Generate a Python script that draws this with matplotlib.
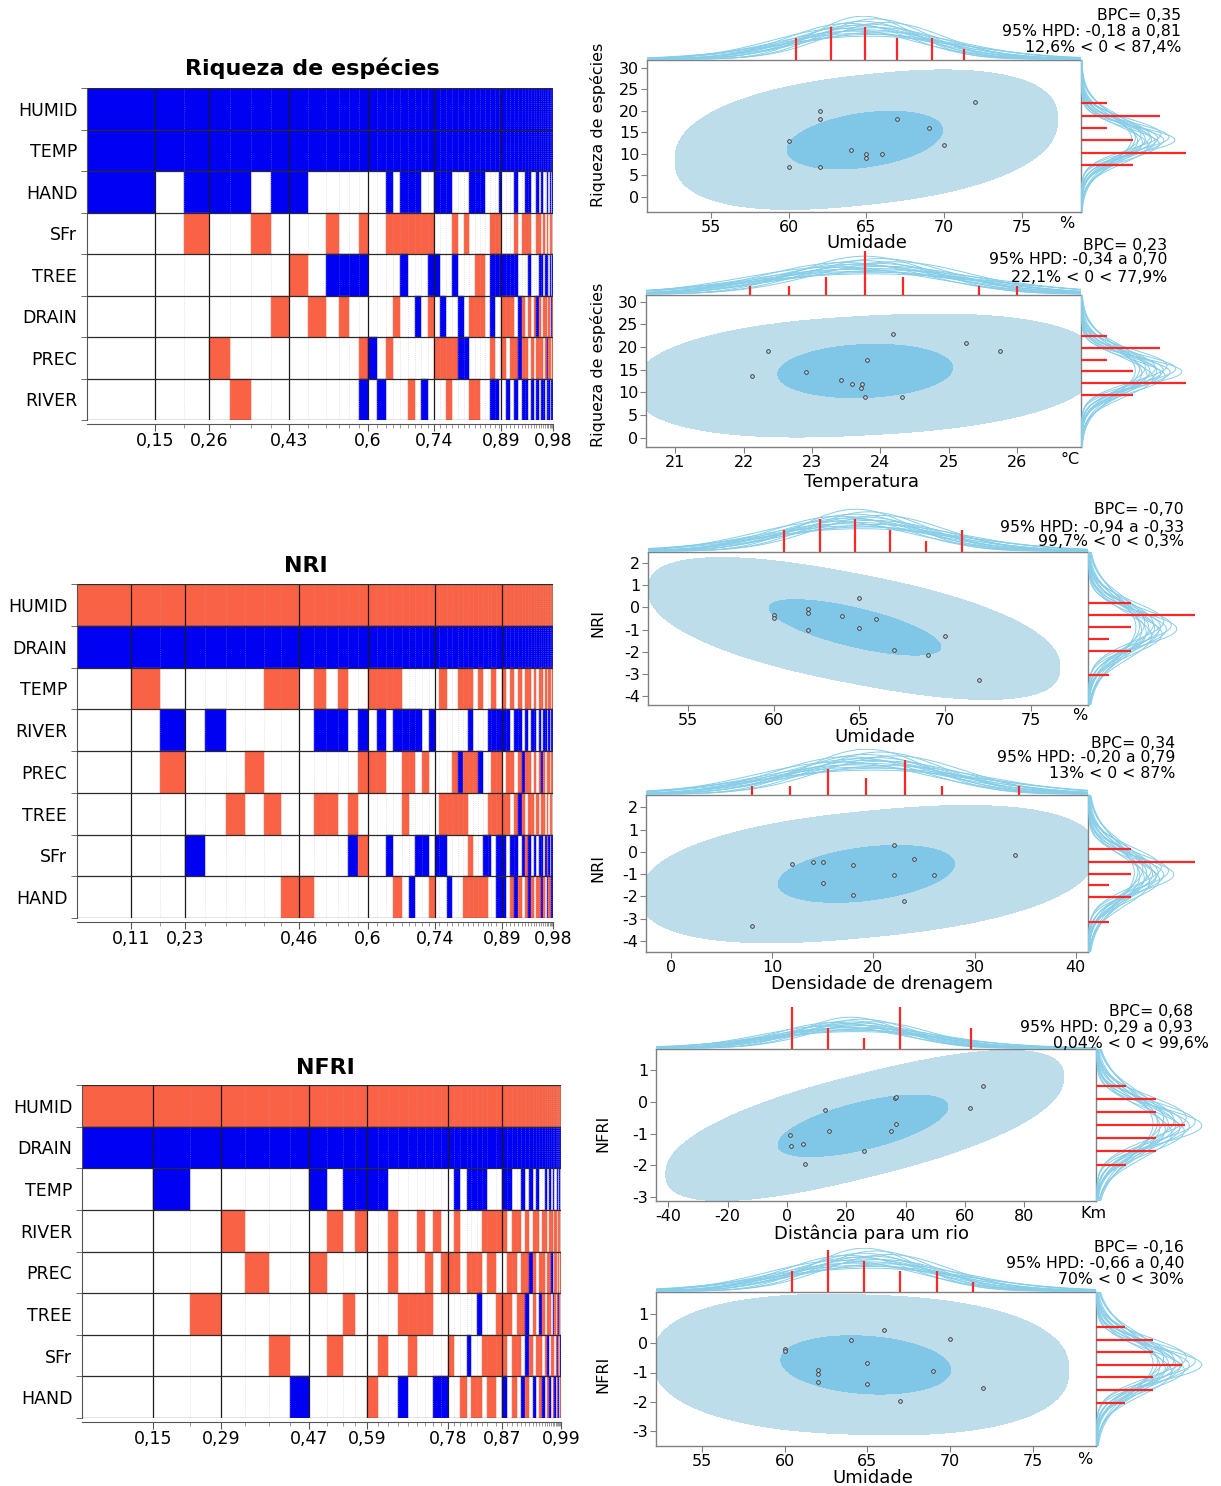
import numpy as np
import matplotlib
matplotlib.use("Agg")
import matplotlib.pyplot as plt

plt.rcParams['font.family'] = ['DejaVu Sans']

# ------------------------------------------------------------------ DATA
# BMA image plots: posterior model probabilities and coefficient signs
# '+' positive (blue), '-' negative (red), '.' not in model
rich_vars = ["HUMID", "TEMP", "HAND", "SFr", "TREE", "DRAIN", "PREC", "RIVER"]
rich_probs = [0.144, 0.060, 0.052, 0.045, 0.044, 0.042, 0.038, 0.040, 0.037, 0.027,
              0.022, 0.021, 0.019, 0.019, 0.018, 0.015, 0.016, 0.016, 0.014, 0.014,
              0.014, 0.012, 0.013, 0.012, 0.013, 0.014, 0.011, 0.012, 0.012, 0.011,
              0.010, 0.011, 0.010, 0.008, 0.005,
              0.0095, 0.009, 0.0085, 0.008, 0.0075, 0.007, 0.0065, 0.006, 0.0058, 0.0055,
              0.005, 0.0047, 0.0044, 0.004, 0.0037, 0.0034, 0.003, 0.0027, 0.0024, 0.0021]
rich_signs = {
    "HUMID": "+++++ +++++ +++++ +++++ +++++ +++++ +++++ | +++++ +++++ +++++ +++++",
    "TEMP":  "+++++ +++++ +++++ +++++ +++++ +++++ +++++ | +++++ +++++ +++++ +++++",
    "HAND":  "+.+++ .++.. ..... +.+++ ..+++ ...++ +...+ | ...+. .++.. +.+.. +.+.+",
    "SFr":   "..-.. -...- ..-.. ----- --... -.-.. ..--- | ...-. ---.. --.-. -.--.",
    "TREE":  "..... ..-.+ +++.. ..+.. .++.. +...- -.+++ | ++++. ..+.. .++.+ +.+.+",
    "DRAIN": "..... .-.-. -.... .-..+ .-.+. .+.-- -.+.. | ---.+ -.-.- +-.-- .-.+-",
    "PREC":  "...-. ..... ..-+. -.... ..--- -++.. ..-.. | -.--+ --.-. ---.- +--.-",
    "RIVER": "....- ..... ..+.+ ...-. +...- ...-- ..++. | .+.+. ++.+. +.++. ++.++",
}
rich_tick_after = [1, 3, 7, 13, 22, 35, 55]
rich_tick_labels = ["0,15", "0,26", "0,43", "0,6", "0,74", "0,89", "0,98"]

nri_vars = ["HUMID", "DRAIN", "TEMP", "RIVER", "PREC", "TREE", "SFr", "HAND"]
nri_probs = [0.112, 0.059, 0.051, 0.042, 0.042, 0.040, 0.038, 0.036, 0.037, 0.030,
             0.026, 0.024, 0.021, 0.021, 0.020, 0.018, 0.018, 0.016, 0.017, 0.015,
             0.013, 0.015, 0.013, 0.012, 0.010, 0.015, 0.011, 0.012, 0.011, 0.010,
             0.010, 0.011, 0.009, 0.010, 0.008, 0.009, 0.012,
             0.0092, 0.0088, 0.0083, 0.0078, 0.0073, 0.0068, 0.0063, 0.0058, 0.0056, 0.0053,
             0.0049, 0.0046, 0.0043, 0.0039, 0.0036, 0.0033, 0.0029, 0.0026, 0.0023, 0.0020]
nri_signs = {
    "HUMID": "----- ----- ----- ----- ----- ----- ----- -- | ----- ----- ----- -----",
    "DRAIN": "+++++ +++++ +++++ +++++ +++++ +++++ +++++ ++ | +++++ +++++ +++++ +++++",
    "TEMP":  ".-... ..--. -.-.. ----. ..... -..-- -.-.. -. | -.-.- .--.- .--.- .--.-",
    "RIVER": "..+.+ ..... +++.+ .+.++ ++.+. ..... +...+ ++ | ++.++ .+.++ .+.++ .+.++",
    "PREC":  "..-.. .-... ....- --..- -.-.. ..-+- --+.. -- | .--.- +--.- .-+-. --.--",
    "TREE":  "..... -.-.. --.-. ....- ..... ----- ....- -- | --.-+ -.--. -.--. -.--.",
    "SFr":   "...+. ..... ...+- ..+.. .++.+ +.... -..++ .+ | +.++. +-+.+ .++.+ -+.++",
    "HAND":  "..... ...-- ..... ...-. +..-. .+..- ----. .+ | +.-+- .-+-. --+-. +--++",
}
nri_tick_after = [1, 3, 9, 15, 24, 37, 57]
nri_tick_labels = ["0,11", "0,23", "0,46", "0,6", "0,74", "0,89", "0,98"]

nfri_vars = ["HUMID", "DRAIN", "TEMP", "RIVER", "PREC", "TREE", "SFr", "HAND"]
nfri_probs = [0.147, 0.076, 0.064, 0.050, 0.050, 0.043, 0.039, 0.037, 0.034, 0.024,
              0.025, 0.023, 0.021, 0.021, 0.020, 0.018, 0.017, 0.017, 0.016, 0.015,
              0.012, 0.013, 0.013, 0.010, 0.012, 0.009, 0.012, 0.017, 0.013,
              0.011, 0.010, 0.0095, 0.009, 0.0085, 0.008, 0.0075, 0.007, 0.0065, 0.006,
              0.0055, 0.005, 0.0045, 0.004, 0.0035, 0.003, 0.003, 0.0025, 0.0025, 0.002,
              0.002, 0.0015]
nfri_signs = {
    "HUMID": "----- ----- ----- ----- ----- ---- | ----- ----- ----- ----- --",
    "DRAIN": "+++++ +++++ +++++ +++++ +++++ ++++ | +++++ +++++ +++++ +++++ ++",
    "TEMP":  ".+... ..+.+ +++.. ..... .+.++ ++.. | ++..+ .+.+. .+.+. +..+. +.",
    "RIVER": "...-. ...-. -..-. .-.-. .-... .--- | -.--. -.--. --.-- .--.- -.",
    "PREC":  "....- ..-.. ...-. ..-.- --.-- -.-. | .--.- -+-.- -.--+ .--.- .-",
    "TREE":  "..-.. ....- ....- ---.. ..... +..- | --.-- +.-.+ -.--. +-.-+ -.",
    "SFr":   "..... -..-. ..-.. -.... -..+. .--- | -.--. +-.-- .-+.- -.-+- .+",
    "HAND":  "..... .+... .-..+ ...++ ..-.- -.-. | +.-.+ -.+.- +.-+. -+.-+ .-",
}
nfri_tick_after = [1, 3, 7, 11, 20, 29, 51]
nfri_tick_labels = ["0,15", "0,29", "0,47", "0,59", "0,78", "0,87", "0,99"]

# Scatter panels: observed points, fitted density regions (cx, cy, half-x, half-y, rho),
# histogram spikes of x and y, marginal curve centres/spreads, statistics
p1_x = [60, 60, 62, 62, 62, 64, 65, 65, 66, 67, 69, 70, 72]
p1_y = [13, 7, 20, 18, 7, 11, 10, 9, 10, 18, 16, 12, 22]
p1_outer = (65.0, 13.3, 12.3, 15.8, 0.30)
p1_inner = (64.9, 13.2, 5.0, 6.7, 0.34)
p1_xh = ([60.5, 62.7, 64.9, 67.0, 69.2, 71.3], [2, 3, 3, 2, 2, 1])
p1_yh = ([7.5, 10.3, 13.2, 16.0, 18.8, 21.7], [2, 4, 2, 1, 3, 1])
p1_curves = ((64.9, 4.3), (13.3, 4.0))
p1_stats = ["BPC= 0,35", "95% HPD: -0,18 a 0,81", "12,6% < 0 < 87,4%"]

p2_x = [22.12, 22.35, 22.91, 23.43, 23.58, 23.73, 23.72, 23.81, 23.78, 24.18, 24.32, 25.26, 25.76]
p2_y = [13.6, 19.1, 14.55, 12.7, 11.8, 11.8, 10.9, 17.2, 9.0, 22.8, 9.0, 20.9, 19.1]
p2_outer = (23.8, 13.7, 3.4, 13.4, 0.20)
p2_inner = (23.78, 14.7, 1.28, 5.9, 0.12)
p2_xh = ([22.1, 22.66, 23.21, 23.77, 24.33, 25.44, 26.0], [1, 1, 2, 5, 2, 1, 1])
p2_yh = ([9.4, 12.0, 14.6, 17.2, 19.8, 22.5], [2, 4, 2, 1, 3, 1])
p2_curves = ((23.8, 1.3), (14.6, 4.0))
p2_stats = ["BPC= 0,23", "95% HPD: -0,34 a 0,70", "22,1% < 0 < 77,9%"]

p3_x = [60, 60, 62, 62, 62, 64, 65, 65, 66, 67, 69, 70, 72]
p3_y = [-0.36, -0.48, -0.06, -0.24, -1.0, -0.37, 0.44, -0.94, -0.52, -1.93, -2.15, -1.31, -3.28]
p3_outer = (64.7, -0.95, 12.0, 3.05, -0.58)
p3_inner = (64.76, -0.9, 5.0, 1.25, -0.70)
p3_xh = ([60.6, 62.7, 64.75, 66.8, 68.9, 71.0], [2, 3, 3, 2, 1, 2])
p3_yh = ([0.19, -0.355, -0.895, -1.435, -1.975, -3.055], [2, 5, 2, 1, 2, 1])
p3_curves = ((64.9, 4.3), (-0.95, 1.0))
p3_stats = ["BPC= -0,70", "95% HPD: -0,94 a -0,33", "99,7% < 0 < 0,3%"]

p4_x = [7.97, 11.98, 14.0, 15.0, 15.0, 18.0, 18.0, 22.0, 22.0, 23.0, 24.0, 26.0, 34.0]
p4_y = [-3.31, -0.565, -0.46, -0.46, -1.39, -0.595, -1.96, 0.32, -1.03, -2.2, -0.31, -1.06, -0.16]
p4_outer = (19.5, -1.0, 22.5, 3.0, 0.33)
p4_inner = (19.3, -0.99, 8.7, 1.28, 0.35)
p4_xh = ([7.97, 11.78, 15.55, 19.3, 23.1, 26.8, 34.4], [1, 1, 3, 2, 4, 1, 1])
p4_yh = ([0.11, -0.445, -0.985, -1.51, -2.05, -3.13], [2, 5, 2, 1, 2, 1])
p4_curves = ((19.5, 8.0), (-1.0, 1.0))
p4_stats = ["BPC= 0,34", "95% HPD: -0,20 a 0,79", "13% < 0 < 87%"]

p5_x = [1.1, 1.5, 5.5, 6.2, 12.7, 14.3, 25.9, 34.9, 36.3, 36.9, 36.9, 61.6, 66.2]
p5_y = [-1.05, -1.39, -1.32, -1.96, -0.25, -0.92, -1.53, -0.91, 0.12, 0.17, -0.68, -0.19, 0.49]
p5_outer = (26.2, -0.74, 67.0, 2.25, 0.68)
p5_inner = (25.6, -0.75, 28.6, 0.97, 0.62)
p5_xh = ([1.8, 13.9, 25.9, 38.1, 62.1], [4, 2, 1, 4, 2])
p5_yh = ([0.51, 0.095, -0.31, -0.73, -1.14, -1.56, -1.98], [1, 2, 2, 3, 2, 2, 1])
p5_curves = ((22.0, 22.0), (-0.73, 0.75))
p5_stats = ["BPC= 0,68", "95% HPD: 0,29 a 0,93", "0,04% < 0 < 99,6%"]

p6_x = [60, 60, 62, 62, 62, 64, 65, 65, 66, 67, 69, 70, 72]
p6_y = [-0.19, -0.27, -0.91, -1.06, -1.33, 0.12, -0.68, -1.40, 0.47, -1.98, -0.94, 0.16, -1.54]
p6_outer = (64.6, -0.73, 12.6, 2.4, -0.08)
p6_inner = (64.9, -0.74, 5.14, 1.0, -0.17)
p6_xh = ([60.45, 62.6, 64.8, 66.98, 69.2, 71.4], [2, 4, 3, 2, 2, 1])
p6_yh = ([0.55, 0.12, -0.31, -0.74, -1.17, -1.60, -2.03], [1, 2, 2, 3, 2, 2, 1])
p6_curves = ((64.9, 4.3), (-0.72, 0.75))
p6_stats = ["BPC= -0,16", "95% HPD: -0,66 a 0,40", "70% < 0 < 30%"]

# posterior draws of the marginal curves: shift (in sd) and spread factor
curve_shift = [-0.35, -0.25, -0.18, -0.12, -0.08, -0.04, 0.0, 0.03, 0.07, 0.11,
               0.15, 0.20, 0.26, 0.32, -0.02, 0.05]
curve_scale = [1.05, 0.90, 1.15, 0.95, 1.25, 0.85, 1.00, 1.10, 0.92, 1.30,
               0.80, 1.02, 1.18, 0.88, 0.75, 1.40]

# ------------------------------------------------------------------ STYLE / LAYOUT
FW, FH = 1221, 1486
BLUE, RED = "#0000f2", "#fa6245"
OUTER, INNER, CURVE, SPIKE, SPINE = "#bcdde9", "#80c6e7", "#86cde8", "#ff2626", "#808080"
SHAPE_OUTER, SHAPE_INNER = 2.35, 2.0   # superellipse exponents of the density regions

fig = plt.figure(figsize=(FW / 100, FH / 100), dpi=100)


def box(x0, y0, x1, y1):
    return [x0 / FW, 1 - y1 / FH, (x1 - x0) / FW, (y1 - y0) / FH]


def ftext(x, y, s, **kw):
    fig.text(x / FW, 1 - y / FH, s, **kw)


def clean(s):
    return s.replace(" ", "").replace("|", "")


def image_plot(rect, title, title_xy, variables, probs, signs, tick_after, tick_labels):
    ax = fig.add_axes(box(*rect))
    probs = np.asarray(probs, dtype=float)
    ends = np.cumsum(probs)
    starts = ends - probs
    total = ends[-1]
    nv = len(variables)
    for i, v in enumerate(variables):
        s = clean(signs[v])
        assert len(s) == len(probs), (v, len(s), len(probs))
        idx = [j for j, c in enumerate(s) if c != '.']
        cols = [BLUE if s[j] == '+' else RED for j in idx]
        ax.barh(np.full(len(idx), nv - i - 0.5), probs[idx], left=starts[idx], height=1.0,
                color=cols, edgecolor=cols, linewidth=0.3, zorder=2)
    ax.vlines(ends[:-1], 0, nv, colors="#b0b0b0", linestyles=(0, (1, 1.5)), lw=0.6,
              alpha=0.45, zorder=3)
    tpos = ends[np.array(tick_after) - 1]
    ax.vlines(tpos, 0, nv, colors="#1a1a1a", lw=0.9, zorder=4)
    ax.hlines(np.arange(nv + 1), 0, total, colors="#2a2a2a", lw=0.9, zorder=4)
    ax.set_xlim(0, total)
    ax.set_ylim(0, nv)
    for sp in ("top", "right"):
        ax.spines[sp].set_visible(False)
    ax.spines["bottom"].set_position(("outward", 3))
    ax.spines["bottom"].set_color("#555555")
    ax.spines["left"].set_color("#555555")
    ax.set_xticks(tpos)
    ax.set_xticklabels(tick_labels, fontsize=12.5)
    ax.set_xticks(ends, minor=True)
    ax.set_yticks(nv - np.arange(nv) - 0.5)
    ax.set_yticklabels(variables, fontsize=12.5)
    ax.set_yticks(np.arange(nv + 1), minor=True)
    ax.tick_params(axis="x", which="major", length=5, color="#555555", pad=1)
    ax.tick_params(axis="x", which="minor", length=3, color="#888888", width=0.6)
    ax.tick_params(axis="y", which="major", length=0, pad=7)
    ax.tick_params(axis="y", which="minor", length=4, color="#555555")
    ftext(title_xy[0], title_xy[1], title, ha="center", va="center",
          fontsize=16, fontweight="bold")


def field(X, Y, p, expo):
    cx, cy, hx, hy, rho = p
    u = (X - cx) / hx
    v = (Y - cy) / hy
    b = (v - rho * u) / np.sqrt(1 - rho * rho)
    return np.abs(u) ** expo + np.abs(b) ** expo


def scatter_panel(rect, top_h, right_w, xlim, ylim, xticks, yticks, xs, ys, outer, inner,
                  xh, yh, top_ppc, right_ppc, curves, top_peak, right_peak,
                  stats, stats_x, stats_y, xlabel, xlabel_xy, ylabel, ylabel_xy,
                  unit=None, unit_xy=None):
    x0, y0, x1, y1 = rect
    ax = fig.add_axes(box(x0, y0, x1, y1))
    axt = fig.add_axes(box(x0, y0 - top_h, x1, y0))
    axr = fig.add_axes(box(x1, y0, x1 + right_w, y1))
    gx = np.linspace(xlim[0], xlim[1], 500)
    gy = np.linspace(ylim[0], ylim[1], 500)
    X, Y = np.meshgrid(gx, gy)
    ax.contourf(X, Y, field(X, Y, outer, SHAPE_OUTER), levels=[-0.5, 1.0],
                colors=[OUTER], zorder=1)
    ax.contourf(X, Y, field(X, Y, inner, SHAPE_INNER), levels=[-0.5, 1.0],
                colors=[INNER], zorder=2)
    ax.scatter(xs, ys, s=7, facecolor="#b8cfd8", edgecolor="#333333", linewidth=0.6, zorder=5)
    ax.set_xlim(xlim)
    ax.set_ylim(ylim)
    ax.set_xticks(xticks)
    ax.set_yticks(yticks)
    ax.set_xticklabels([str(t) for t in xticks], fontsize=11.5)
    ax.set_yticklabels([str(t) for t in yticks], fontsize=11.5)
    ax.tick_params(length=4, color=SPINE, pad=1.5)
    for sp in ax.spines.values():
        sp.set_color(SPINE)
        sp.set_linewidth(1.0)

    (mx, sx), (my, sy) = curves
    smin = min(curve_scale)
    # top marginal
    axt.set_xlim(xlim)
    axt.set_ylim(0, top_h)
    for sh, sc in zip(curve_shift, curve_scale):
        yk = np.exp(-0.5 * ((gx - (mx + sh * sx)) / (sx * sc)) ** 2) * smin / sc * top_peak
        axt.plot(gx, yk + 0.8, color=CURVE, lw=0.7, zorder=1)
    axt.vlines(xh[0], 0, np.array(xh[1]) * top_ppc, color=SPIKE, lw=1.6, zorder=3)
    axt.axis("off")
    # right marginal
    axr.set_ylim(ylim)
    axr.set_xlim(0, right_w)
    for sh, sc in zip(curve_shift, curve_scale):
        xk = np.exp(-0.5 * ((gy - (my + sh * sy)) / (sy * sc)) ** 2) * smin / sc * right_peak
        axr.plot(xk + 0.8, gy, color=CURVE, lw=0.7, zorder=1)
    axr.hlines(yh[0], 0, np.array(yh[1]) * right_ppc, color=SPIKE, lw=1.6, zorder=3)
    axr.axis("off")

    for s, sxp, syp in zip(stats, stats_x, stats_y):
        ftext(sxp, syp, s, ha="right", va="center", fontsize=11.3)
    ftext(xlabel_xy[0], xlabel_xy[1], xlabel, ha="center", va="center", fontsize=13)
    ftext(ylabel_xy[0], ylabel_xy[1], ylabel, ha="center", va="center", fontsize=11.5,
          rotation=90)
    if unit:
        ftext(unit_xy[0], unit_xy[1], unit, ha="center", va="center", fontsize=11.5)


# ------------------------------------------------------------------ LEFT COLUMN
image_plot((87, 88, 553, 420), "Riqueza de espécies", (312, 68),
           rich_vars, rich_probs, rich_signs, rich_tick_after, rich_tick_labels)
image_plot((77, 584, 553, 918), "NRI", (306, 566),
           nri_vars, nri_probs, nri_signs, nri_tick_after, nri_tick_labels)
image_plot((82, 1085, 561, 1418), "NFRI", (325, 1068),
           nfri_vars, nfri_probs, nfri_signs, nfri_tick_after, nfri_tick_labels)

# ------------------------------------------------------------------ RIGHT COLUMN
scatter_panel((647, 60, 1081, 212), 44, 112, (50.9, 78.8), (-3.5, 31.8),
              [55, 60, 65, 70, 75], [0, 5, 10, 15, 20, 25, 30], p1_x, p1_y, p1_outer, p1_inner,
              p1_xh, p1_yh, 10.9, 26.2, p1_curves, 43, 93,
              p1_stats, [1181, 1181, 1181], [16, 32, 47],
              "Umidade", (867, 243), "Riqueza de espécies", (598, 125), "%", (1067, 223))

scatter_panel((646, 295, 1081, 447), 44, 112, (20.57, 26.94), (-2.1, 31.5),
              [21, 22, 23, 24, 25, 26], [0, 5, 10, 15, 20, 25, 30], p2_x, p2_y, p2_outer,
              p2_inner, p2_xh, p2_yh, 8.8, 26.2, p2_curves, 38, 100,
              p2_stats, [1167, 1167, 1167], [245, 260, 277],
              "Temperatura", (861, 482), "Riqueza de espécies", (598, 365), "°C", (1070, 459))

scatter_panel((648, 552, 1088, 705), 44, 112, (52.68, 78.34), (-4.4, 2.5),
              [55, 60, 65, 70, 75], [-4, -3, -2, -1, 0, 1, 2], p3_x, p3_y, p3_outer, p3_inner,
              p3_xh, p3_yh, 11.0, 21.3, p3_curves, 42, 88,
              p3_stats, [1184, 1184, 1184], [510, 527, 542],
              "Umidade", (875, 737), "NRI", (598, 623), "%", (1080, 716))

scatter_panel((646, 795, 1088, 952), 46, 112, (-2.47, 41.2), (-4.5, 2.555),
              [0, 10, 20, 30, 40], [-4, -3, -2, -1, 0, 1, 2], p4_x, p4_y, p4_outer, p4_inner,
              p4_xh, p4_yh, 8.7, 21.3, p4_curves, 45, 85,
              p4_stats, [1175, 1175, 1175], [743, 758, 774],
              "Densidade de drenagem", (882, 984), "NRI", (598, 868))

scatter_panel((656, 1049, 1096, 1201), 44, 112, (-44.1, 104.1), (-3.12, 1.67),
              [-40, -20, 0, 20, 40, 60, 80], [-3, -2, -1, 0, 1], p5_x, p5_y, p5_outer,
              p5_inner, p5_xh, p5_yh, 10.6, 29.8, p5_curves, 31, 105,
              p5_stats, [1193, 1193, 1209], [1011, 1027, 1044],
              "Distância para um rio", (871, 1234), "NFRI", (603, 1133), "Km", (1093, 1213))

scatter_panel((656, 1292, 1096, 1446), 44, 112, (52.2, 78.84), (-3.52, 1.76),
              [55, 60, 65, 70, 75], [-3, -2, -1, 0, 1], p6_x, p6_y, p6_outer, p6_inner,
              p6_xh, p6_yh, 10.5, 28.7, p6_curves, 43, 105,
              p6_stats, [1184, 1184, 1184], [1248, 1264, 1280],
              "Umidade", (873, 1478), "NFRI", (603, 1374), "%", (1085, 1459))

fig.savefig("out.png", dpi=100)
